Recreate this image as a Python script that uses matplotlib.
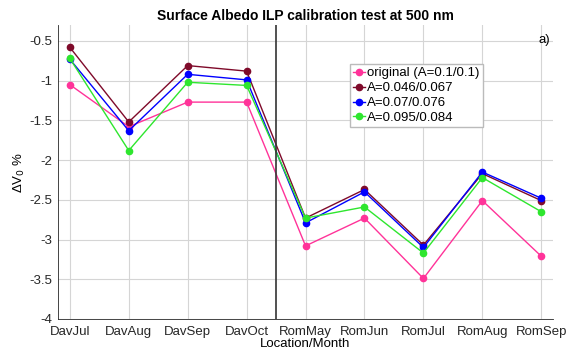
import matplotlib
matplotlib.use("Agg")
import matplotlib.pyplot as plt
import numpy as np

plt.rcParams["font.family"] = ["Liberation Sans", "DejaVu Sans"]

months = ["DavJul", "DavAug", "DavSep", "DavOct", "RomMay", "RomJun", "RomJul", "RomAug", "RomSep"]
original = [-1.05, -1.58, -1.27, -1.27, -3.08, -2.73, -3.49, -2.51, -3.21]
a046 = [-0.58, -1.52, -0.81, -0.88, -2.73, -2.37, -3.07, -2.17, -2.51]
a07 = [-0.73, -1.63, -0.92, -0.99, -2.79, -2.40, -3.10, -2.15, -2.48]
a095 = [-0.72, -1.88, -1.02, -1.06, -2.73, -2.59, -3.17, -2.22, -2.65]

series = [
    ("original (A=0.1/0.1)", original, "#ff3399"),
    ("A=0.046/0.067", a046, "#7f0a2a"),
    ("A=0.07/0.076", a07, "#0000ff"),
    ("A=0.095/0.084", a095, "#2ee62e"),
]

fig = plt.figure(figsize=(5.69, 3.58), dpi=100)
ax = fig.add_axes([0.102, 0.109, 0.870, 0.821])
x = np.arange(1, len(months) + 1)
for label, vals, c in series:
    ax.plot(x, vals, "-o", color=c, ms=4.5, lw=1.0, label=label)

ax.axvline(4.5, color="#333333", lw=1.2)
ax.set_xlim(0.8, 9.2)
ax.set_ylim(-4, -0.3)
ax.set_xticks(x)
ax.set_xticklabels(months)
ax.set_yticks([-4, -3.5, -3, -2.5, -2, -1.5, -1, -0.5])
ax.set_yticklabels(["-4", "-3.5", "-3", "-2.5", "-2", "-1.5", "-1", "-0.5"])
ax.tick_params(labelsize=9.5, length=0, colors="#262626")
ax.tick_params(axis="x", pad=5)
ax.tick_params(axis="y", pad=4)
ax.grid(True, color="#d5d5d5", lw=0.8)
ax.set_axisbelow(True)
for s in ["top", "right"]:
    ax.spines[s].set_visible(False)
for s in ["left", "bottom"]:
    ax.spines[s].set_color("#262626")
    ax.spines[s].set_linewidth(0.6)

ax.set_title("Surface Albedo ILP calibration test at 500 nm", fontsize=10, fontweight="bold", pad=4)
ax.set_xlabel("Location/Month", fontsize=9.5, labelpad=0)
ax.set_ylabel("ΔV$_0$ %", fontsize=9.5, labelpad=2)
ax.text(0.995, 0.97, "a)", transform=ax.transAxes, ha="right", va="top", fontsize=9.5)

ax.legend(loc="upper left", bbox_to_anchor=(0.59, 0.868), fontsize=9.5, frameon=True,
          fancybox=False, edgecolor="#bbbbbb", handlelength=0.9, handletextpad=0.15,
          labelspacing=0.2, borderpad=0.25, borderaxespad=0, framealpha=1)

fig.savefig("out.png", dpi=100)
